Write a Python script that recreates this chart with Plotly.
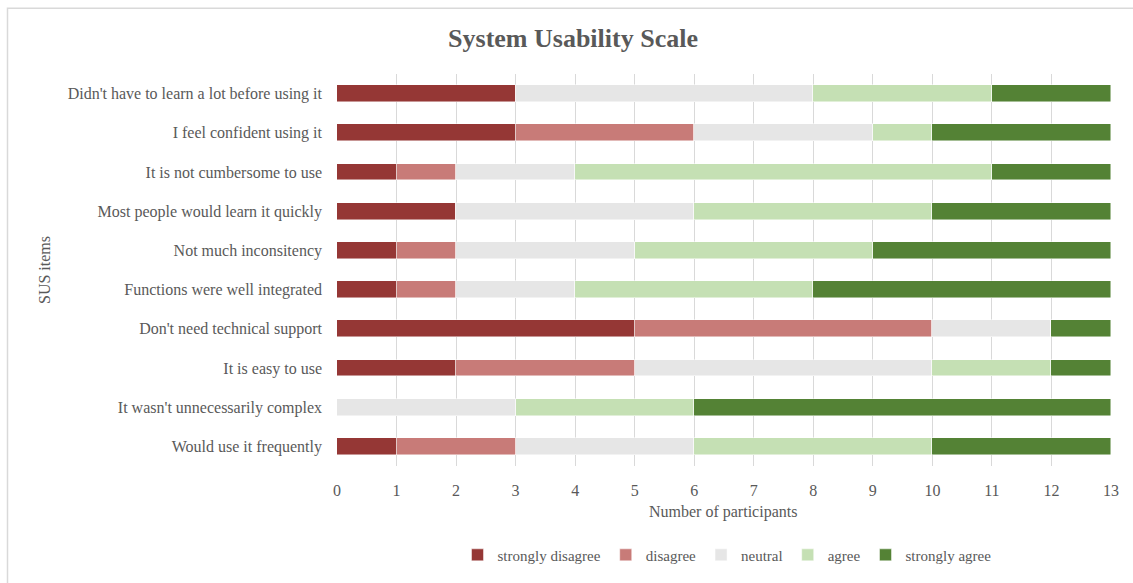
import plotly.graph_objects as go

items = [
    "Would use it frequently",
    "It wasn't unnecessarily complex",
    "It is easy to use",
    "Don't need technical support",
    "Functions were well integrated",
    "Not much inconsitency",
    "Most people would learn it quickly",
    "It is not cumbersome to use",
    "I feel confident using it",
    "Didn't have to learn a lot before using it",
]
strongly_disagree = [1, 0, 2, 5, 1, 1, 2, 1, 3, 3]
disagree          = [2, 0, 3, 5, 1, 1, 0, 1, 3, 0]
neutral           = [3, 3, 5, 2, 2, 3, 4, 2, 3, 5]
agree             = [4, 3, 2, 0, 4, 4, 4, 7, 1, 3]
strongly_agree    = [3, 7, 1, 1, 5, 4, 3, 2, 3, 2]
tick_vals = list(range(0, 14))

series = [
    ("strongly disagree", strongly_disagree, "#953735"),
    ("disagree", disagree, "#C87B78"),
    ("neutral", neutral, "#E6E6E6"),
    ("agree", agree, "#C5E0B4"),
    ("strongly agree", strongly_agree, "#548235"),
]

FONT = "Liberation Serif"
GRAY = "#595959"
FS = 16

fig = go.Figure()
for name, vals, col in series:
    fig.add_trace(go.Bar(
        y=items, x=vals, name=name, orientation="h",
        marker=dict(color=col, line=dict(color="rgba(255,255,255,0.6)", width=0.8)),
        width=0.43,
    ))

W, H = 1133, 583
L, R, T, B = 337, 22, 74, 113
pw, ph = W - L - R, H - T - B

def px_x(x):
    return (x - L) / pw

def px_y(y):
    return (H - B - y) / ph

fig.update_layout(
    width=W, height=H,
    barmode="stack",
    bargap=0,
    paper_bgcolor="white", plot_bgcolor="white",
    margin=dict(l=L, r=R, t=T, b=B),
    font=dict(family=FONT, size=FS, color=GRAY),
    title=dict(text="<b>System Usability Scale</b>", x=px_x(573), xref="paper",
               xanchor="center", y=1 - 38 / H, yanchor="middle",
               font=dict(family=FONT, size=26, color=GRAY)),
    xaxis=dict(range=[0, 13], tickvals=tick_vals, showgrid=True, gridcolor="#D9D9D9",
               gridwidth=1, zeroline=False, showline=False, ticks="",
               ticklabelstandoff=13,
               tickfont=dict(family=FONT, size=FS, color=GRAY)),
    yaxis=dict(showgrid=False, zeroline=False, showline=False, ticks="",
               ticklabelstandoff=14,
               tickfont=dict(family=FONT, size=FS, color=GRAY)),
    legend=dict(orientation="h", x=px_x(727), xanchor="center", y=px_y(560), yanchor="middle",
                font=dict(family=FONT, size=15, color=GRAY), traceorder="normal",
                itemwidth=30),
    showlegend=True,
    annotations=[
        dict(text="Number of participants", xref="paper", yref="paper",
             x=px_x(723), y=px_y(516), xanchor="center", yanchor="middle",
             showarrow=False, font=dict(family=FONT, size=FS, color=GRAY)),
        dict(text="SUS items", xref="paper", yref="paper", textangle=-90,
             x=px_x(44), y=px_y(272), xanchor="center", yanchor="middle",
             showarrow=False, font=dict(family=FONT, size=FS, color=GRAY)),
    ],
)

fig.add_shape(type="rect", xref="paper", yref="paper",
              x0=px_x(7.5), x1=px_x(1180), y0=px_y(7.5), y1=px_y(640),
              line=dict(color="#D9D9D9", width=1.5), layer="below")

fig.write_html("out.html")
